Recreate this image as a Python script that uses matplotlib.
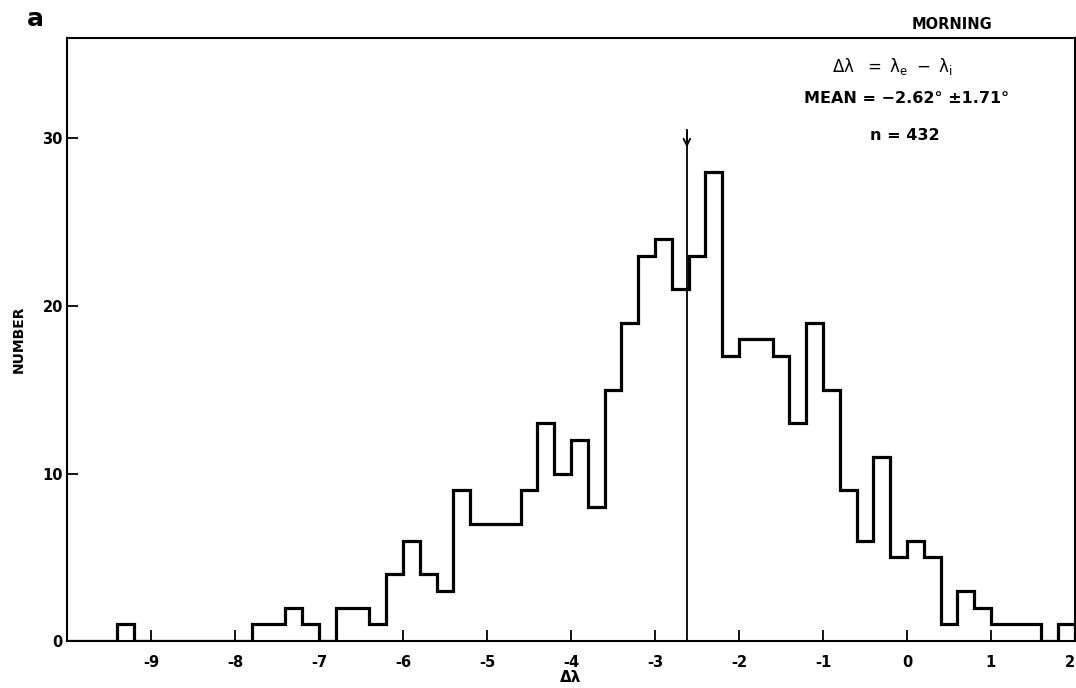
import numpy as np
import matplotlib.pyplot as plt

# histogram of delta lambda, 0.2 deg bins from -10 to 2
bin_start = -10.0
bin_stop = 2.0
counts = [0, 0, 0, 1, 0, 0, 0, 0, 0, 0, 0,
          1, 1, 2, 1, 0, 2, 2, 1, 4, 6, 4, 3, 9, 7, 7, 7, 9, 13, 10, 12, 8,
          15, 19, 23, 24, 21, 23, 28, 17, 18, 18, 17, 13, 19, 15, 9, 6, 11,
          5, 6, 5, 1, 3, 2, 1, 1, 1, 0, 1]
mean_val = -2.62
x_ticks = [-9, -8, -7, -6, -5, -4, -3, -2, -1, 0, 1, 2]
y_ticks = [0, 10, 20, 30]

edges = np.linspace(bin_start, bin_stop, len(counts) + 1)

plt.rcParams['font.family'] = ['DejaVu Sans']
plt.rcParams['mathtext.fontset'] = 'dejavusans'
fig = plt.figure(figsize=(10.76, 6.88), dpi=100)
ax = fig.add_axes([0.0623, 0.0683, 0.9367, 0.8765])

ax.stairs(counts, edges, baseline=0, fill=False, color='black', linewidth=2.3)

# mean marker with arrow on top
ax.plot([mean_val, mean_val], [0, 30.5], color='black', linewidth=1.3)
ax.annotate('', xy=(mean_val, 29.3), xytext=(mean_val, 30.6),
            arrowprops=dict(arrowstyle='->', color='black', lw=1.3,
                            mutation_scale=12))

ax.set_xlim(bin_start, bin_stop)
ax.set_ylim(0, 36)
ax.set_xticks(x_ticks)
ax.set_xticklabels([f"-{abs(t)}" if t < 0 else str(t) for t in x_ticks])
ax.set_yticks(y_ticks)
ax.tick_params(direction='in', length=8, width=1.3, labelsize=10.5)
ax.tick_params(axis='x', pad=10)
ax.tick_params(axis='y', pad=3)
for lab in ax.get_xticklabels() + ax.get_yticklabels():
    lab.set_fontweight('bold')
ax.get_xticklabels()[-1].set_horizontalalignment('right')
for s in ax.spines.values():
    s.set_linewidth(1.5)

ax.set_xlabel('Δλ', fontsize=11, fontweight='bold', labelpad=0)
ax.set_ylabel('NUMBER', fontsize=10, fontweight='bold', labelpad=12)

fig.text(0.0325, 0.972, 'a', fontsize=18, fontweight='bold', va='center', ha='center')
fig.text(0.885, 0.964, 'MORNING', fontsize=10.5, fontweight='bold', va='center', ha='center')
ax.text(0.819, 0.952, r'$\mathrm{\Delta\lambda\ \ =\ \lambda_e\ -\ \lambda_i}$', transform=ax.transAxes,
        fontsize=12, va='center', ha='center')
ax.text(0.833, 0.900, 'MEAN = −2.62° ±1.71°', transform=ax.transAxes,
        fontsize=11.5, fontweight='bold', va='center', ha='center')
ax.text(0.831, 0.839, 'n = 432', transform=ax.transAxes,
        fontsize=11.5, fontweight='bold', va='center', ha='center')

fig.savefig('out.png', dpi=100)
